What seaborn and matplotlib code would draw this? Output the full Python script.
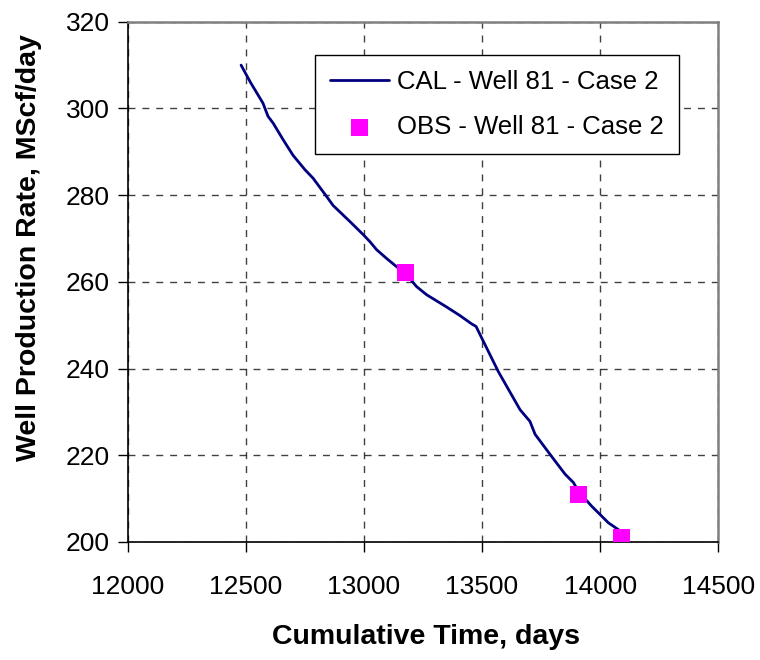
import matplotlib
matplotlib.use("Agg")
import matplotlib.pyplot as plt
import seaborn as sns
import pandas as pd

cal_days = [12480, 12520, 12573, 12594, 12616, 12658, 12700, 12750, 12785, 12842,
            12870, 12941, 12997, 13025, 13054, 13096, 13145, 13175, 13223, 13266,
            13350, 13407, 13456, 13475, 13492, 13569, 13661, 13703, 13725, 13788,
            13852, 13887, 13910, 13965, 14000, 14035, 14078, 14090]
cal_rate = [310.0, 306.0, 301.2, 298.2, 296.6, 292.8, 289.2, 285.9, 283.9, 279.7,
            277.6, 273.9, 270.9, 269.3, 267.4, 265.4, 263.2, 262.0, 258.9, 257.0,
            254.2, 252.2, 250.3, 249.7, 247.8, 239.3, 230.5, 227.8, 224.8, 220.2,
            215.6, 213.7, 211.5, 208.2, 206.3, 204.4, 202.8, 202.0]

obs_days = [13175, 13910, 14090]
obs_rate = [262.1, 210.9, 201.1]

cal_label = "CAL - Well 81 - Case 2"
obs_label = "OBS - Well 81 - Case 2"

x_ticks = [12000, 12500, 13000, 13500, 14000, 14500]
y_ticks = [200, 220, 240, 260, 280, 300, 320]

sns.set_style("white")
plt.rcParams['font.family'] = ['Liberation Sans', 'DejaVu Sans']
plt.rcParams['text.color'] = 'black'
plt.rcParams['axes.labelcolor'] = 'black'
plt.rcParams['xtick.color'] = 'black'
plt.rcParams['ytick.color'] = 'black'

fig = plt.figure(figsize=(7.6, 6.6), dpi=100)
ax = fig.add_axes([0.168, 0.179, 0.777, 0.788])

cal = pd.DataFrame({"days": cal_days, "rate": cal_rate})
obs = pd.DataFrame({"days": obs_days, "rate": obs_rate})

sns.lineplot(data=cal, x="days", y="rate", sort=False, color="#000080",
             linewidth=2.0, ax=ax, label=cal_label, zorder=3)
sns.scatterplot(data=obs, x="days", y="rate", marker="s", s=150, color="#ff00ff",
                edgecolor="none", ax=ax, label=obs_label, zorder=4)

ax.set_xlim(12000, 14500)
ax.set_ylim(200, 320)
ax.set_xticks(x_ticks)
ax.set_yticks(y_ticks)
ax.set_xticklabels([str(t) for t in x_ticks], fontsize=19)
ax.set_yticklabels([str(t) for t in y_ticks], fontsize=19)

ax.grid(True, color="#000000", linestyle=(0, (5, 5)), linewidth=1.0, alpha=0.75)
ax.set_axisbelow(True)

for side in ["top", "right"]:
    ax.spines[side].set_color("#808080")
    ax.spines[side].set_linewidth(1.8)
for side in ["left", "bottom"]:
    ax.spines[side].set_color("#000000")
    ax.spines[side].set_linewidth(1.2)

ax.tick_params(axis="both", direction="out", length=7, width=1.0, color="#000000",
               labelcolor="black", left=True, bottom=True)
ax.tick_params(axis="x", pad=17)
ax.tick_params(axis="y", pad=6)

ax.set_xlabel("Cumulative Time, days", fontsize=20.5, fontweight="bold")
ax.set_ylabel("Well Production Rate, MScf/day", fontsize=20.5, fontweight="bold")
ax.xaxis.set_label_coords(0.506, -0.158)
ax.yaxis.set_label_coords(-0.145, 0.565)

leg = ax.legend(loc="upper right", bbox_to_anchor=(0.934, 0.9365), fontsize=18.5,
                frameon=True, fancybox=False, edgecolor="#000000", framealpha=1.0,
                borderpad=0.6, labelspacing=0.8, handlelength=2.3, handletextpad=0.3,
                borderaxespad=0.0)
leg.get_frame().set_linewidth(1.0)

fig.savefig("out.png", dpi=100)
